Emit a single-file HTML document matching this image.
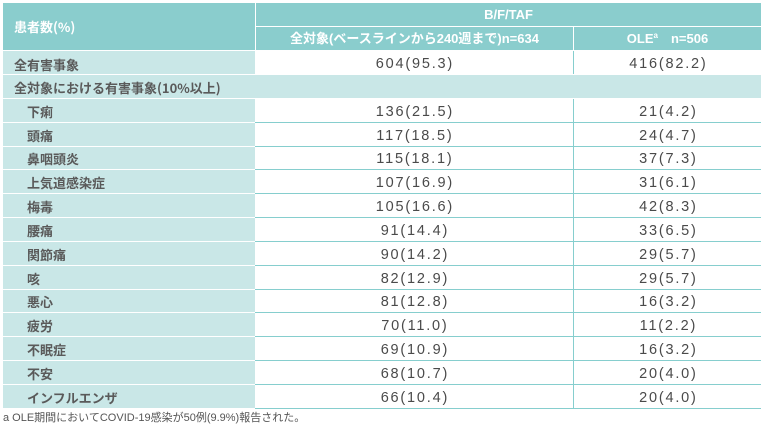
<!DOCTYPE html>
<html><head><meta charset="utf-8">
<style>
html,body{margin:0;padding:0;background:#fff;}
body{width:765px;height:424px;position:relative;overflow:hidden;font-family:"Liberation Sans","Noto Sans CJK JP",sans-serif;}
.a{position:absolute;}
.hd{background:#8acdcd;color:#fff;font-weight:bold;font-size:13px;}
.lc{background:#c9e7e7;left:3px;width:252px;}
.lab{position:absolute;font-weight:bold;font-size:13px;color:#5a5a5a;white-space:nowrap;font-family:"Noto Sans CJK JP",sans-serif;}
.val{position:absolute;font-size:14.5px;color:#4a4a4a;letter-spacing:1.8px;white-space:nowrap;text-align:center;}
.hl{position:absolute;left:255px;width:506px;height:1px;background:#86cece;}
.vl{position:absolute;left:573px;width:1px;background:#86cece;}
</style></head><body>
<!-- header -->
<div class="a hd" style="left:3px;top:3px;width:252px;height:47px;"></div>
<div class="a" style="left:14px;top:17px;color:#fff;font-weight:bold;font-size:13px;font-family:'Noto Sans CJK JP',sans-serif;line-height:20px;">患者数(%)</div>
<div class="a hd" style="left:256px;top:3px;width:505px;height:23px;"></div>
<div class="a" style="left:256px;top:5px;width:505px;text-align:center;color:#fff;font-weight:bold;font-size:13px;line-height:20px;">B/F/TAF</div>
<div class="a hd" style="left:256px;top:27px;width:317px;height:23px;"></div>
<div class="a hd" style="left:574px;top:27px;width:187px;height:23px;"></div>
<div class="a" style="left:256px;top:29px;width:317px;text-align:center;color:#fff;font-weight:bold;font-size:13px;line-height:20px;white-space:nowrap;">全対象(ベースラインから240週まで)n=634</div>
<div class="a" style="left:574px;top:29px;width:187px;text-align:center;color:#fff;font-weight:bold;font-size:13px;line-height:20px;white-space:nowrap;">OLE<sup style="font-size:8px;vertical-align:5px;line-height:0;">a</sup>　n=506</div>

<!-- rows -->
<div class="a lc" style="top:51px;height:23px;"></div>
<div class="lab" style="left:14px;top:53px;line-height:23px;">全有害事象</div>
<div class="val" style="left:255px;width:318px;top:53px;line-height:23px;"><span style="margin-right:-1.8px">604(95.3)</span></div>
<div class="val" style="left:574px;width:187px;top:53px;line-height:23px;"><span style="margin-right:-1.8px">416(82.2)</span></div>
<div class="vl" style="top:51px;height:23px;"></div>

<div class="a" style="left:3px;width:758px;top:75px;height:23px;background:#c9e7e7;"></div>
<div class="lab" style="left:14px;top:76px;line-height:23px;">全対象における有害事象(10%以上)</div>

<div class="vl" style="top:99px;height:310px;"></div>

<div class="a lc" style="top:99px;height:23px;"></div>
<div class="lab" style="left:27px;top:100px;line-height:23px;">下痢</div>
<div class="val" style="left:255px;width:318px;top:101px;line-height:23px;"><span style="margin-right:-1.8px">136(21.5)</span></div>
<div class="val" style="left:574px;width:187px;top:101px;line-height:23px;"><span style="margin-right:-1.8px">21(4.2)</span></div>
<div class="hl" style="top:122px;"></div>

<div class="a lc" style="top:123px;height:23px;"></div>
<div class="lab" style="left:27px;top:124px;line-height:23px;">頭痛</div>
<div class="val" style="left:255px;width:318px;top:125px;line-height:23px;"><span style="margin-right:-1.8px">117(18.5)</span></div>
<div class="val" style="left:574px;width:187px;top:125px;line-height:23px;"><span style="margin-right:-1.8px">24(4.7)</span></div>
<div class="hl" style="top:146px;"></div>

<div class="a lc" style="top:147px;height:22px;"></div>
<div class="lab" style="left:27px;top:147px;line-height:23px;">鼻咽頭炎</div>
<div class="val" style="left:255px;width:318px;top:148px;line-height:23px;"><span style="margin-right:-1.8px">115(18.1)</span></div>
<div class="val" style="left:574px;width:187px;top:148px;line-height:23px;"><span style="margin-right:-1.8px">37(7.3)</span></div>
<div class="hl" style="top:169px;"></div>

<div class="a lc" style="top:170px;height:23px;"></div>
<div class="lab" style="left:27px;top:171px;line-height:23px;">上気道感染症</div>
<div class="val" style="left:255px;width:318px;top:172px;line-height:23px;"><span style="margin-right:-1.8px">107(16.9)</span></div>
<div class="val" style="left:574px;width:187px;top:172px;line-height:23px;"><span style="margin-right:-1.8px">31(6.1)</span></div>
<div class="hl" style="top:193px;"></div>

<div class="a lc" style="top:194px;height:23px;"></div>
<div class="lab" style="left:27px;top:195px;line-height:23px;">梅毒</div>
<div class="val" style="left:255px;width:318px;top:196px;line-height:23px;"><span style="margin-right:-1.8px">105(16.6)</span></div>
<div class="val" style="left:574px;width:187px;top:196px;line-height:23px;"><span style="margin-right:-1.8px">42(8.3)</span></div>
<div class="hl" style="top:217px;"></div>

<div class="a lc" style="top:218px;height:23px;"></div>
<div class="lab" style="left:27px;top:219px;line-height:23px;">腰痛</div>
<div class="val" style="left:255px;width:318px;top:220px;line-height:23px;"><span style="margin-right:-1.8px">91(14.4)</span></div>
<div class="val" style="left:574px;width:187px;top:220px;line-height:23px;"><span style="margin-right:-1.8px">33(6.5)</span></div>
<div class="hl" style="top:241px;"></div>

<div class="a lc" style="top:242px;height:23px;"></div>
<div class="lab" style="left:27px;top:243px;line-height:23px;">関節痛</div>
<div class="val" style="left:255px;width:318px;top:244px;line-height:23px;"><span style="margin-right:-1.8px">90(14.2)</span></div>
<div class="val" style="left:574px;width:187px;top:244px;line-height:23px;"><span style="margin-right:-1.8px">29(5.7)</span></div>
<div class="hl" style="top:265px;"></div>

<div class="a lc" style="top:266px;height:23px;"></div>
<div class="lab" style="left:27px;top:267px;line-height:23px;">咳</div>
<div class="val" style="left:255px;width:318px;top:268px;line-height:23px;"><span style="margin-right:-1.8px">82(12.9)</span></div>
<div class="val" style="left:574px;width:187px;top:268px;line-height:23px;"><span style="margin-right:-1.8px">29(5.7)</span></div>
<div class="hl" style="top:289px;"></div>

<div class="a lc" style="top:290px;height:22px;"></div>
<div class="lab" style="left:27px;top:290px;line-height:23px;">悪心</div>
<div class="val" style="left:255px;width:318px;top:291px;line-height:23px;"><span style="margin-right:-1.8px">81(12.8)</span></div>
<div class="val" style="left:574px;width:187px;top:291px;line-height:23px;"><span style="margin-right:-1.8px">16(3.2)</span></div>
<div class="hl" style="top:312px;"></div>

<div class="a lc" style="top:313px;height:23px;"></div>
<div class="lab" style="left:27px;top:314px;line-height:23px;">疲労</div>
<div class="val" style="left:255px;width:318px;top:315px;line-height:23px;"><span style="margin-right:-1.8px">70(11.0)</span></div>
<div class="val" style="left:574px;width:187px;top:315px;line-height:23px;"><span style="margin-right:-1.8px">11(2.2)</span></div>
<div class="hl" style="top:336px;"></div>

<div class="a lc" style="top:337px;height:23px;"></div>
<div class="lab" style="left:27px;top:338px;line-height:23px;">不眠症</div>
<div class="val" style="left:255px;width:318px;top:339px;line-height:23px;"><span style="margin-right:-1.8px">69(10.9)</span></div>
<div class="val" style="left:574px;width:187px;top:339px;line-height:23px;"><span style="margin-right:-1.8px">16(3.2)</span></div>
<div class="hl" style="top:360px;"></div>

<div class="a lc" style="top:361px;height:23px;"></div>
<div class="lab" style="left:27px;top:362px;line-height:23px;">不安</div>
<div class="val" style="left:255px;width:318px;top:363px;line-height:23px;"><span style="margin-right:-1.8px">68(10.7)</span></div>
<div class="val" style="left:574px;width:187px;top:363px;line-height:23px;"><span style="margin-right:-1.8px">20(4.0)</span></div>
<div class="hl" style="top:384px;"></div>

<div class="a lc" style="top:385px;height:23px;"></div>
<div class="lab" style="left:27px;top:386px;line-height:23px;">インフルエンザ</div>
<div class="val" style="left:255px;width:318px;top:387px;line-height:23px;"><span style="margin-right:-1.8px">66(10.4)</span></div>
<div class="val" style="left:574px;width:187px;top:387px;line-height:23px;"><span style="margin-right:-1.8px">20(4.0)</span></div>
<div class="hl" style="top:408px;"></div>

<div class="a" style="left:3px;top:410px;font-size:11px;line-height:16px;color:#555;white-space:nowrap;font-family:'Liberation Sans','Noto Sans CJK JP',sans-serif;">a OLE期間においてCOVID-19感染が50例(9.9%)報告された。</div>
</body></html>
